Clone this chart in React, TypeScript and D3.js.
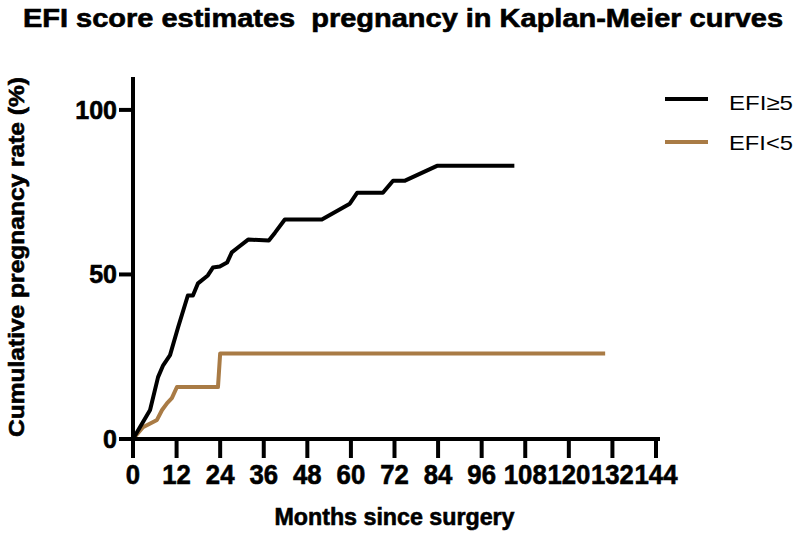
import React from "react";
import * as d3 from "d3";

const title = "EFI score estimates  pregnancy in Kaplan-Meier curves";
const xTicks = [0, 12, 24, 36, 48, 60, 72, 84, 96, 108, 120, 132, 144];
const yTicks = [0, 50, 100];

// EFI≥5 curve: [months, cumulative %]
const highMonths = [0, 4.7, 6.9, 8.3, 10.2, 12.4, 15.1, 16.5, 17.9, 20.6, 22.0, 23.9, 25.9, 27.2, 28.9, 31.7, 37.4, 39.1, 41.8, 52, 59.7, 61.7, 68.8, 71.6, 74.9, 83.7, 105];
const highValues = [0, 8.8, 18.8, 22.4, 25.5, 33.9, 43.6, 43.6, 47.3, 49.7, 52.1, 52.4, 53.6, 56.7, 58.2, 60.6, 60.3, 62.7, 66.7, 66.7, 71.5, 74.8, 74.8, 78.5, 78.5, 83, 83];

// EFI<5 curve
const lowMonths = [0, 2.75, 6.6, 8, 9.4, 10.7, 12.1, 23.4, 24, 130];
const lowValues = [0, 3.6, 5.8, 8.8, 10.9, 12.4, 15.8, 15.8, 26, 26];

const seriesNames = ["EFI≥5", "EFI<5"];
const colors = ["#000000", "#a97b45"];

export default function App() {
  const W = 800, H = 533;
  const x = d3.scaleLinear().domain([0, 144]).range([133, 656]);
  const y = d3.scaleLinear().domain([0, 110]).range([439, 77]);
  const line = d3.line<[number, number]>().x(d => x(d[0])).y(d => y(d[1]));
  const high: [number, number][] = highMonths.map((m, i) => [m, highValues[i]]);
  const low: [number, number][] = lowMonths.map((m, i) => [m, lowValues[i]]);
  const font = "'Liberation Sans', Arial, Helvetica, sans-serif";
  const heavy = { stroke: "#000", strokeWidth: 0.6 };

  return (
    <svg width={W} height={H} style={{ position: "absolute", left: 0, top: 0, background: "#fff" }} fontFamily={font}>
      <rect x={0} y={0} width={W} height={H} fill="#fff" />
      <text x={23} y={27} fontSize={25} fontWeight="bold" textLength={760} lengthAdjust="spacingAndGlyphs" style={{ whiteSpace: "pre" }} {...heavy}>{title}</text>

      {/* curves */}
      <path d={line(low) || ""} fill="none" stroke={colors[1]} strokeWidth={4} strokeLinejoin="round" />
      <path d={line(high) || ""} fill="none" stroke={colors[0]} strokeWidth={4} strokeLinejoin="round" />

      {/* y axis */}
      <line x1={x(0)} x2={x(0)} y1={y(110)} y2={y(0) + 2} stroke="#000" strokeWidth={4} />
      {yTicks.map(t => (
        <g key={"y" + t}>
          <line x1={x(0) - 14} x2={x(0)} y1={y(t)} y2={y(t)} stroke="#000" strokeWidth={4} />
          <text x={x(0) - 16} y={y(t)} dy="0.36em" textAnchor="end" fontSize={25} fontWeight="bold" {...heavy}>{t}</text>
        </g>
      ))}

      {/* x axis */}
      <line x1={x(0) - 2} x2={660} y1={y(0)} y2={y(0)} stroke="#000" strokeWidth={4} />
      {xTicks.map(t => (
        <g key={"x" + t}>
          <line x1={x(t)} x2={x(t)} y1={y(0)} y2={y(0) + 19} stroke="#000" strokeWidth={4} />
          <text x={x(t)} y={484} textAnchor="middle" fontSize={27} fontWeight="bold" textLength={String(t).length * 14.3} lengthAdjust="spacingAndGlyphs" {...heavy}>{t}</text>
        </g>
      ))}

      <text x={(x(0) + x(144)) / 2} y={525} textAnchor="middle" fontSize={23} fontWeight="bold" textLength={240} lengthAdjust="spacingAndGlyphs" {...heavy}>Months since surgery</text>
      <text transform={`translate(24,${257}) rotate(-90)`} textAnchor="middle" fontSize={22} fontWeight="bold" textLength={360} lengthAdjust="spacingAndGlyphs" {...heavy}>Cumulative pregnancy rate (%)</text>

      {/* legend */}
      {seriesNames.map((n, i) => (
        <g key={n}>
          <line x1={665} x2={708} y1={99 + i * 43} y2={99 + i * 43} stroke={colors[i]} strokeWidth={4} />
          <text x={729} y={110 + i * 40} fontSize={21} textLength={64} lengthAdjust="spacingAndGlyphs">{n}</text>
        </g>
      ))}
    </svg>
  );
}
